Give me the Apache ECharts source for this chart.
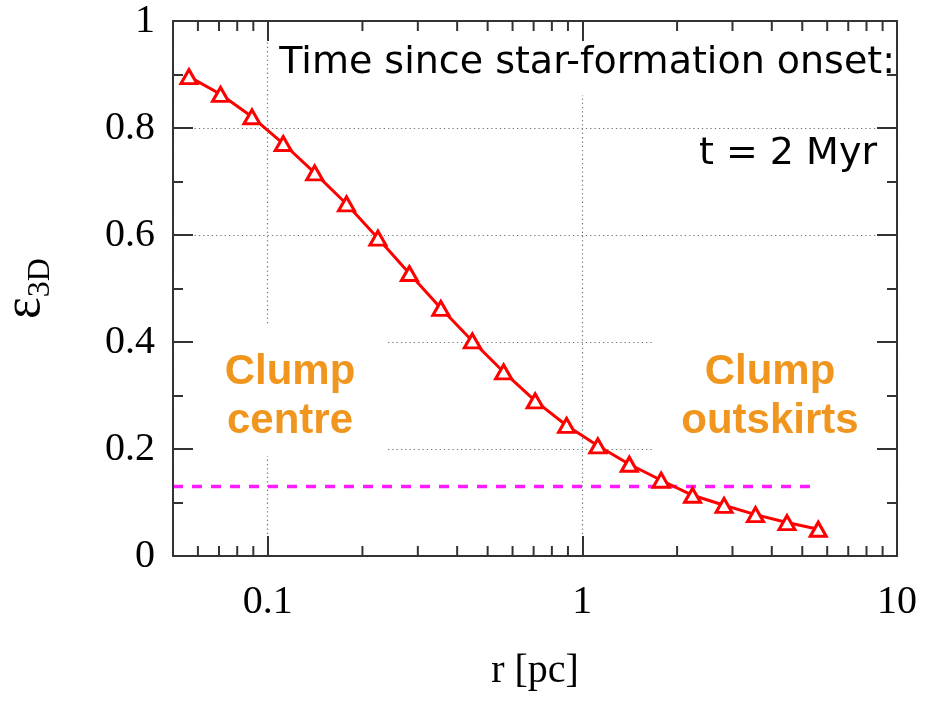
<!DOCTYPE html>
<html>
<head>
<meta charset="utf-8">
<script src="https://cdn.jsdelivr.net/npm/echarts@6/dist/echarts.min.js"></script>
<style>
  html, body { margin: 0; padding: 0; background: #fff; }
  #chart { width: 926px; height: 701px; }
</style>
</head>
<body>
<div id="chart"></div>
<script>
// Radius of each shell [pc]
const radius = [0.0562, 0.0708, 0.0891, 0.112, 0.141, 0.178, 0.224, 0.282, 0.355, 0.447,
                0.562, 0.708, 0.891, 1.12, 1.41, 1.78, 2.24, 2.82, 3.55, 4.47, 5.62];
// Star-formation efficiency inside each radius
const eps3D = [0.896, 0.863, 0.821, 0.771, 0.716, 0.658, 0.594, 0.528, 0.463, 0.402,
               0.344, 0.290, 0.244, 0.206, 0.1715, 0.1416, 0.1135, 0.0948, 0.0774, 0.0625, 0.050];
// Reference efficiency level (dashed) and its radial span
const refLevel = 0.13;
const refSpan = [0.05, 5.62];
// Axis ranges and ticks
const xRange = [0.05, 10];
const yRange = [0, 1];
const yStep = 0.2;
const xMinorTicks = [0.06, 0.07, 0.08, 0.09, 0.2, 0.3, 0.4, 0.5, 0.6, 0.7, 0.8, 0.9,
                     2, 3, 4, 5, 6, 7, 8, 9];

const chart = echarts.init(document.getElementById('chart'), null, { renderer: 'canvas' });

const serif = '"Liberation Serif", "Times New Roman", serif';
const frame = '#333';
const gridLine = { show: true, lineStyle: { color: '#777', width: 1.2, type: [1.3, 3] } };

function tickAxis(pos, extra) {
  return Object.assign({
    position: pos,
    z: 5,
    axisLine: { show: true, onZero: false, lineStyle: { color: frame, width: 2 } },
    axisTick: { show: true, inside: true, length: 20, lineStyle: { color: frame, width: 2 } },
    splitLine: { show: false }
  }, extra);
}

const option = {
  animation: false,
  backgroundColor: '#fff',
  grid: { left: 173, top: 21, right: 29, bottom: 145, containLabel: false, outerBoundsMode: 'none' },
  xAxis: [
    tickAxis('bottom', {
      type: 'log', logBase: 10, min: xRange[0], max: xRange[1],
      axisLabel: { show: true, margin: 26, color: '#000', fontFamily: serif, fontSize: 40, showMinLabel: false },
      name: 'r [pc]', nameLocation: 'middle', nameGap: 95,
      nameTextStyle: { color: '#000', fontFamily: serif, fontSize: 40 }
    }),
    tickAxis('top', {
      type: 'log', logBase: 10, min: xRange[0], max: xRange[1],
      axisLabel: { show: false }
    }),
    {
      type: 'log', logBase: 10, min: xRange[0], max: xRange[1], position: 'bottom', z: 0,
      axisLine: { show: false }, axisTick: { show: false }, axisLabel: { show: false },
      splitLine: gridLine
    }
  ],
  yAxis: [
    tickAxis('left', {
      type: 'value', min: yRange[0], max: yRange[1], interval: yStep,
      minorTick: { show: true, splitNumber: 2, length: 10, lineStyle: { color: frame, width: 2 } },
      axisLabel: { show: true, margin: 18, color: '#000', fontFamily: serif, fontSize: 40,
                   formatter: v => String(+v.toFixed(1)) },
      name: '{e|ε}{s|3D}', nameLocation: 'middle', nameGap: 122, nameRotate: 90,
      nameTextStyle: {
        rich: {
          e: { fontFamily: serif, fontSize: 52, color: '#000' },
          s: { fontFamily: serif, fontSize: 32, color: '#000', verticalAlign: 'bottom', padding: [0, 0, -6, 0] }
        }
      }
    }),
    tickAxis('right', {
      type: 'value', min: yRange[0], max: yRange[1], interval: yStep,
      minorTick: { show: true, splitNumber: 2, length: 10, lineStyle: { color: frame, width: 2 } },
      axisLabel: { show: false }
    }),
    {
      type: 'value', min: yRange[0], max: yRange[1], interval: yStep, position: 'left', z: 0,
      axisLine: { show: false }, axisTick: { show: false }, axisLabel: { show: false },
      splitLine: gridLine
    }
  ],
  graphic: [
    // white panels behind the annotations (hide the grid beneath them)
    { type: 'rect', z: 1, silent: true, shape: { x: 276, y: 23, width: 619, height: 72 }, style: { fill: '#fff' } },
    { type: 'rect', z: 1, silent: true, shape: { x: 175, y: 325, width: 212, height: 131 }, style: { fill: '#fff' } },
    { type: 'rect', z: 1, silent: true, shape: { x: 654, y: 325, width: 241, height: 131 }, style: { fill: '#fff' } },
    {
      type: 'text', z: 10, silent: true,
      style: { text: 'Time since star-formation onset:', x: 895, y: 63, align: 'right', verticalAlign: 'middle',
               font: '38px "DejaVu Sans", sans-serif', fill: '#000' }
    },
    {
      type: 'text', z: 10, silent: true,
      style: { text: 't = 2 Myr', x: 877, y: 154, align: 'right', verticalAlign: 'middle',
               font: '38px "DejaVu Sans", sans-serif', fill: '#000' }
    },
    {
      type: 'text', z: 10, silent: true,
      style: { text: 'Clump\ncentre', x: 290, y: 397, align: 'center', verticalAlign: 'middle', lineHeight: 49,
               font: 'bold 42px "Liberation Sans", Arial, sans-serif', fill: '#f0961e' }
    },
    {
      type: 'text', z: 10, silent: true,
      style: { text: 'Clump\noutskirts', x: 770, y: 397, align: 'center', verticalAlign: 'middle', lineHeight: 49,
               font: 'bold 42px "Liberation Sans", Arial, sans-serif', fill: '#f0961e' }
    }
  ],
  series: [
    {
      type: 'line', name: 'reference', xAxisIndex: 0, yAxisIndex: 0, z: 3,
      data: [[refSpan[0], refLevel], [refSpan[1], refLevel]],
      showSymbol: false, symbol: 'none',
      lineStyle: { color: '#ff1aff', width: 3.5, type: [10, 9] }
    },
    {
      type: 'line', name: 'eps3D', xAxisIndex: 0, yAxisIndex: 0, z: 4,
      data: radius.map((r, i) => [r, eps3D[i]]),
      symbol: 'triangle', symbolSize: [16, 14],
      itemStyle: { color: '#fff', borderColor: '#ff0000', borderWidth: 3 },
      lineStyle: { color: '#ff0000', width: 3 }
    },
    {
      // minor ticks of the logarithmic x axis, bottom and top edges
      type: 'custom', xAxisIndex: 0, yAxisIndex: 0, z: 6, silent: true,
      data: xMinorTicks.map(v => [v]),
      renderItem: function (params, api) {
        const v = api.value(0);
        const b = api.coord([v, yRange[0]]);
        const t = api.coord([v, yRange[1]]);
        const st = { stroke: frame, lineWidth: 2 };
        return {
          type: 'group',
          children: [
            { type: 'line', shape: { x1: b[0], y1: b[1], x2: b[0], y2: b[1] - 10 }, style: st },
            { type: 'line', shape: { x1: t[0], y1: t[1], x2: t[0], y2: t[1] + 10 }, style: st }
          ]
        };
      }
    }
  ]
};

chart.setOption(option);
</script>
</body>
</html>
